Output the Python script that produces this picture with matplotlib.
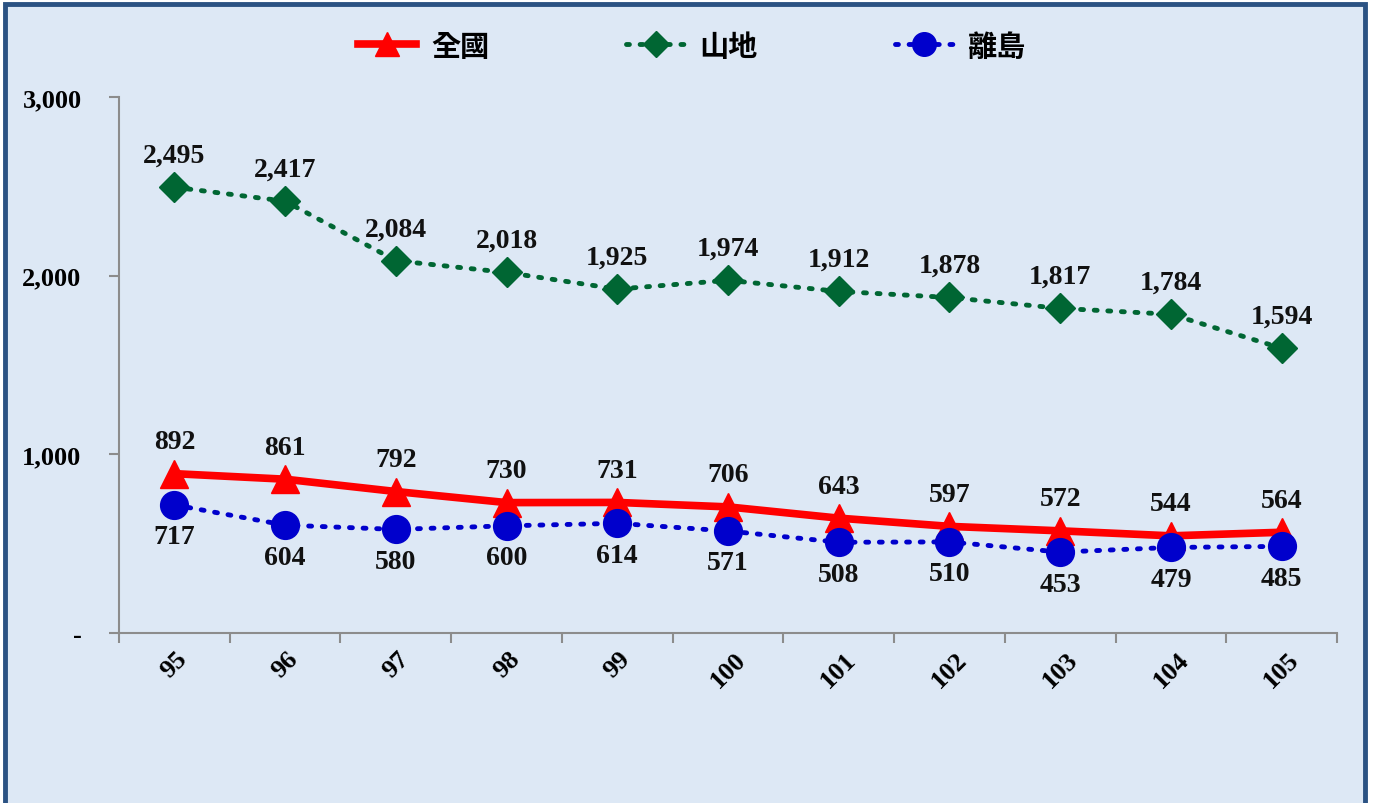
import matplotlib.pyplot as plt
from matplotlib.patches import Rectangle

# 年度 (民國) 與各區數值
years = [95, 96, 97, 98, 99, 100, 101, 102, 103, 104, 105]
national = [892, 861, 792, 730, 731, 706, 643, 597, 572, 544, 564]
mountain = [2495, 2417, 2084, 2018, 1925, 1974, 1912, 1878, 1817, 1784, 1594]
island = [717, 604, 580, 600, 614, 571, 508, 510, 453, 479, 485]

bg = '#dde8f5'
serif = ['Liberation Serif', 'DejaVu Serif']
cjk = ['Noto Sans CJK TC', 'DejaVu Sans']

fig = plt.figure(figsize=(13.73, 8.04), dpi=100)
fig.patch.set_facecolor('white')

# 外框 (下緣被裁切)
fig.patches.append(Rectangle((0.004, -0.05), 0.99, 1.044, transform=fig.transFigure,
                             facecolor=bg, edgecolor='#2b5283', linewidth=3.5, zorder=-10))

ax = fig.add_axes([0.0867, 0.2114, 0.8871, 0.6667])
ax.set_facecolor('none')

ax.plot(years, national, color='#ff0000', lw=5.5, marker='^', ms=20,
        label='全國', zorder=3)
ax.plot(years, mountain, color='#006633', lw=3.5, ls=(0, (0.6, 2.2)), dash_capstyle='round',
        marker='D', ms=15, label='山地', zorder=3)
ax.plot(years, island, color='#0000cc', lw=3.5, ls=(0, (0.6, 2.2)), dash_capstyle='round',
        marker='o', ms=20, label='離島', zorder=4)

lbl = dict(ha='center', fontsize=20, fontweight='bold', family=serif, color='#111111')
for x, v in zip(years, mountain):
    ax.annotate(f'{v:,}', (x, v), xytext=(0, 14), textcoords='offset points', va='bottom', **lbl)
for x, v in zip(years, national):
    ax.annotate(f'{v:,}', (x, v), xytext=(0, 14), textcoords='offset points', va='bottom', **lbl)
for x, v in zip(years, island):
    ax.annotate(f'{v:,}', (x, v), xytext=(0, -14), textcoords='offset points', va='top', **lbl)

ax.set_xlim(94.5, 105.5)
ax.set_ylim(0, 3000)
ax.set_yticks([0, 1000, 2000, 3000])
ax.set_yticklabels(['-', '1,000', '2,000', '3,000'])
ax.set_xticks(years)
ax.set_xticks([94.5 + i for i in range(12)], minor=True)
ax.set_xticklabels([str(y) for y in years], rotation=45, ha='center', va='top')

for s in ['top', 'right']:
    ax.spines[s].set_visible(False)
for s in ['left', 'bottom']:
    ax.spines[s].set_color('#8c8c8c')
    ax.spines[s].set_linewidth(1.5)
    ax.spines[s].set_zorder(1)
ax.tick_params(axis='y', direction='out', length=7, width=1.5, color='#8c8c8c', pad=20)
ax.tick_params(axis='x', which='major', length=0, pad=10)
ax.tick_params(axis='x', which='minor', direction='out', length=7, width=1.5, color='#8c8c8c')
for t in ax.get_yticklabels() + ax.get_xticklabels():
    t.set_fontfamily(serif)
    t.set_fontweight('bold')
    t.set_fontsize(19)

leg = fig.legend(loc='center', bbox_to_anchor=(0.504, 0.942), ncol=3, frameon=False,
                 columnspacing=4.7, handlelength=2.0, handletextpad=0.5, markerscale=0.85,
                 prop={'family': cjk, 'size': 21, 'weight': 'bold'})

fig.savefig('out.png', dpi=100, facecolor=fig.get_facecolor())
